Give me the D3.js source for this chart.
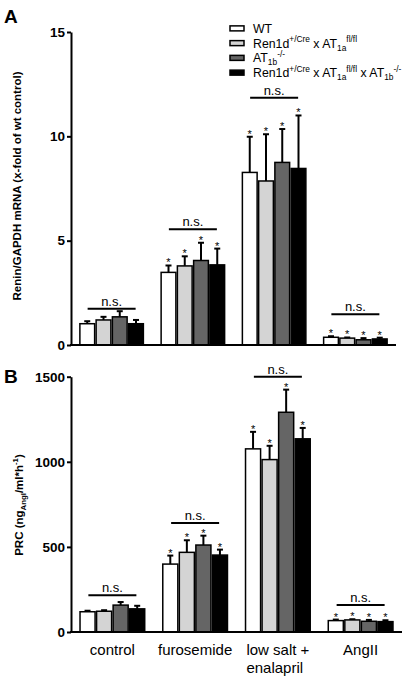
<!DOCTYPE html>
<html><head><meta charset="utf-8">
<script src="https://cdn.jsdelivr.net/npm/d3@7"></script>
<style>
html,body{margin:0;padding:0;background:#fff;}
svg{display:block;font-family:"Liberation Sans",Arial,sans-serif;}
</style></head>
<body>
<svg id="chart" width="411" height="682"></svg>
<script>
const categories = ["control", "furosemide", "low salt +\nenalapril", "AngII"];
const seriesNames = ["WT", "Ren1d x AT1a", "AT1b", "Ren1d x AT1a x AT1b"];
const seriesColors = ["#ffffff", "#d4d4d4", "#656565", "#000000"];

// Panel A: Renin/GAPDH mRNA (x-fold of wt control)
const mrnaWT      = [1.02, 3.48, 8.27, 0.37];
const mrnaRenAT1a = [1.20, 3.79, 7.86, 0.33];
const mrnaAT1b    = [1.35, 4.05, 8.75, 0.25];
const mrnaDouble  = [1.02, 3.84, 8.46, 0.29];
const mrnaErrWT      = [0.12, 0.33, 1.71, 0.05];
const mrnaErrRenAT1a = [0.15, 0.46, 2.24, 0.03];
const mrnaErrAT1b    = [0.27, 0.85, 1.60, 0.08];
const mrnaErrDouble  = [0.18, 0.78, 2.54, 0.06];
const mrnaStars = [false, true, true, true];
const mrnaTicks = [0, 5, 10, 15];

// Panel B: PRC
const prcWT      = [119, 399, 1076, 67];
const prcRenAT1a = [122, 468, 1013, 71];
const prcAT1b    = [158, 511, 1291, 63];
const prcDouble  = [136, 452, 1135, 61];
const prcErrWT      = [6, 50, 100, 6];
const prcErrRenAT1a = [6, 71, 81, 4];
const prcErrAT1b    = [18, 55, 133, 8];
const prcErrDouble  = [18, 32, 64, 8];
const prcStars = [false, true, true, true];
const prcTicks = [0, 500, 1000, 1500];

const svg = d3.select("#chart");

function richText(sel, segs, size) {
  let cur = 0;
  segs.forEach(([t, type]) => {
    const target = type === 'sup' ? -size * 0.42 : type === 'sub' ? size * 0.25 : 0;
    const ts = sel.append("tspan").text(t).attr("dy", target - cur);
    if (type) ts.attr("font-size", size * 0.68);
    cur = target;
  });
}

function panel(cfg) {
  const x0 = d3.scaleBand().domain(categories).range([cfg.left, cfg.right])
    .paddingInner(0.2).paddingOuter(0.1);
  const x1 = d3.scaleBand().domain(seriesNames).range([0, x0.bandwidth()]).padding(0);
  const y = d3.scaleLinear().domain(cfg.domain).range([cfg.bottom, cfg.top]);
  const g = svg.append("g");

  const vals = cfg.values, errs = cfg.errors;
  categories.forEach((c, ci) => {
    seriesNames.forEach((s, si) => {
      const v = vals[si][ci], e = errs[si][ci];
      const bx = x0(c) + x1(s);
      const cx = bx + x1.bandwidth() / 2;
      g.append("line").attr("x1", cx).attr("x2", cx)
        .attr("y1", y(v)).attr("y2", y(v + e))
        .attr("stroke", "#000").attr("stroke-width", 2);
      g.append("line").attr("x1", cx - 3).attr("x2", cx + 3)
        .attr("y1", y(v + e)).attr("y2", y(v + e))
        .attr("stroke", "#000").attr("stroke-width", 2);
      g.append("rect").attr("x", bx + 0.75).attr("y", y(v))
        .attr("width", x1.bandwidth() - 1.5).attr("height", y(0) - y(v))
        .attr("fill", seriesColors[si]).attr("stroke", "#000").attr("stroke-width", 1.5);
      if (cfg.stars[ci]) {
        g.append("text").attr("x", cx).attr("y", y(v + e) + 1)
          .attr("text-anchor", "middle").attr("font-size", 11).attr("fill", "#000").text("*");
      }
    });
  });

  categories.forEach((c, ci) => {
    const cx = x0(c) + x0.bandwidth() / 2;
    const ly = y(cfg.nsLevels[ci]);
    g.append("line").attr("x1", cx - 24).attr("x2", cx + 24)
      .attr("y1", ly).attr("y2", ly).attr("stroke", "#000").attr("stroke-width", 2);
    g.append("text").attr("x", cx).attr("y", ly - 3).attr("text-anchor", "middle")
      .attr("font-size", 13).text("n.s.");
  });

  const ya = g.append("g").attr("transform", `translate(${cfg.left},0)`)
    .call(d3.axisLeft(y).tickValues(cfg.ticks).tickFormat(d3.format("d"))
      .tickSize(4).tickPadding(2).tickSizeOuter(0));
  ya.select(".domain").attr("stroke-width", 2);
  ya.selectAll(".tick line").attr("stroke-width", 2);
  ya.selectAll(".tick text").attr("font-size", 13.5).attr("font-weight", "bold")
    .attr("font-family", '"Liberation Sans",Arial,sans-serif').attr("fill", "#000");
  g.append("line").attr("x1", cfg.left - 1).attr("x2", cfg.right)
    .attr("y1", y(0)).attr("y2", y(0)).attr("stroke", "#000").attr("stroke-width", 2);

  return { x0, y, g };
}

const A = panel({
  left: 71, right: 396, top: 32, bottom: 345, domain: [0, 15],
  values: [mrnaWT, mrnaRenAT1a, mrnaAT1b, mrnaDouble],
  errors: [mrnaErrWT, mrnaErrRenAT1a, mrnaErrAT1b, mrnaErrDouble],
  stars: mrnaStars, ticks: mrnaTicks,
  nsLevels: [1.74, 5.55, 11.85, 1.47]
});
const B = panel({
  left: 71, right: 402, top: 376.7, bottom: 632, domain: [0, 1500],
  values: [prcWT, prcRenAT1a, prcAT1b, prcDouble],
  errors: [prcErrWT, prcErrRenAT1a, prcErrAT1b, prcErrDouble],
  stars: prcStars, ticks: prcTicks,
  nsLevels: [216, 640, 1500, 158]
});

svg.append("text").attr("x", 4).attr("y", 23).attr("font-size", 19).attr("font-weight", "bold").text("A");
svg.append("text").attr("x", 4).attr("y", 383).attr("font-size", 19).attr("font-weight", "bold").text("B");

svg.append("text").attr("transform", "translate(21,186) rotate(-90)")
  .attr("text-anchor", "middle").attr("font-size", 11.5).attr("font-weight", "bold")
  .text("Renin/GAPDH mRNA (x-fold of wt control)");
const tB = svg.append("text").attr("transform", "translate(23,505) rotate(-90)")
  .attr("text-anchor", "middle").attr("font-size", 11.5).attr("font-weight", "bold");
richText(tB, [["PRC (ng", null], ["AngI", "sub"], ["/ml*h", null], ["-1", "sup"], [")", null]], 11.5);

categories.forEach((c) => {
  const cx = B.x0(c) + B.x0.bandwidth() / 2;
  const lines = c.split("\n");
  const t = svg.append("text").attr("x", cx).attr("y", 655).attr("font-size", 15)
    .attr("text-anchor", "middle").text(lines[0]);
  if (lines.length > 1) {
    const w = t.node().getComputedTextLength();
    t.attr("text-anchor", "start").attr("x", cx - w / 2);
    svg.append("text").attr("x", cx - w / 2).attr("y", 673).attr("font-size", 15).text(lines[1]);
  }
});

const legendLabels = [
  [["WT", null]],
  [["Ren1d", null], ["+/Cre", "sup"], [" x AT", null], ["1a", "sub"], ["fl/fl", "sup"]],
  [["AT", null], ["1b", "sub"], ["-/-", "sup"]],
  [["Ren1d", null], ["+/Cre", "sup"], [" x AT", null], ["1a", "sub"], ["fl/fl", "sup"], [" x AT", null], ["1b", "sub"], ["-/-", "sup"]]
];
const ly = d3.scaleBand().domain(seriesNames).range([21, 80]);
seriesNames.forEach((s, i) => {
  const yc = ly(s) + ly.bandwidth() / 2;
  svg.append("rect").attr("x", 230).attr("y", yc - 2.5).attr("width", 14).attr("height", 5)
    .attr("fill", seriesColors[i]).attr("stroke", "#000").attr("stroke-width", 1.5);
  const t = svg.append("text").attr("x", 253).attr("y", yc + 4.5).attr("font-size", 12.3);
  richText(t, legendLabels[i], 12.3);
});
</script>
</body></html>
